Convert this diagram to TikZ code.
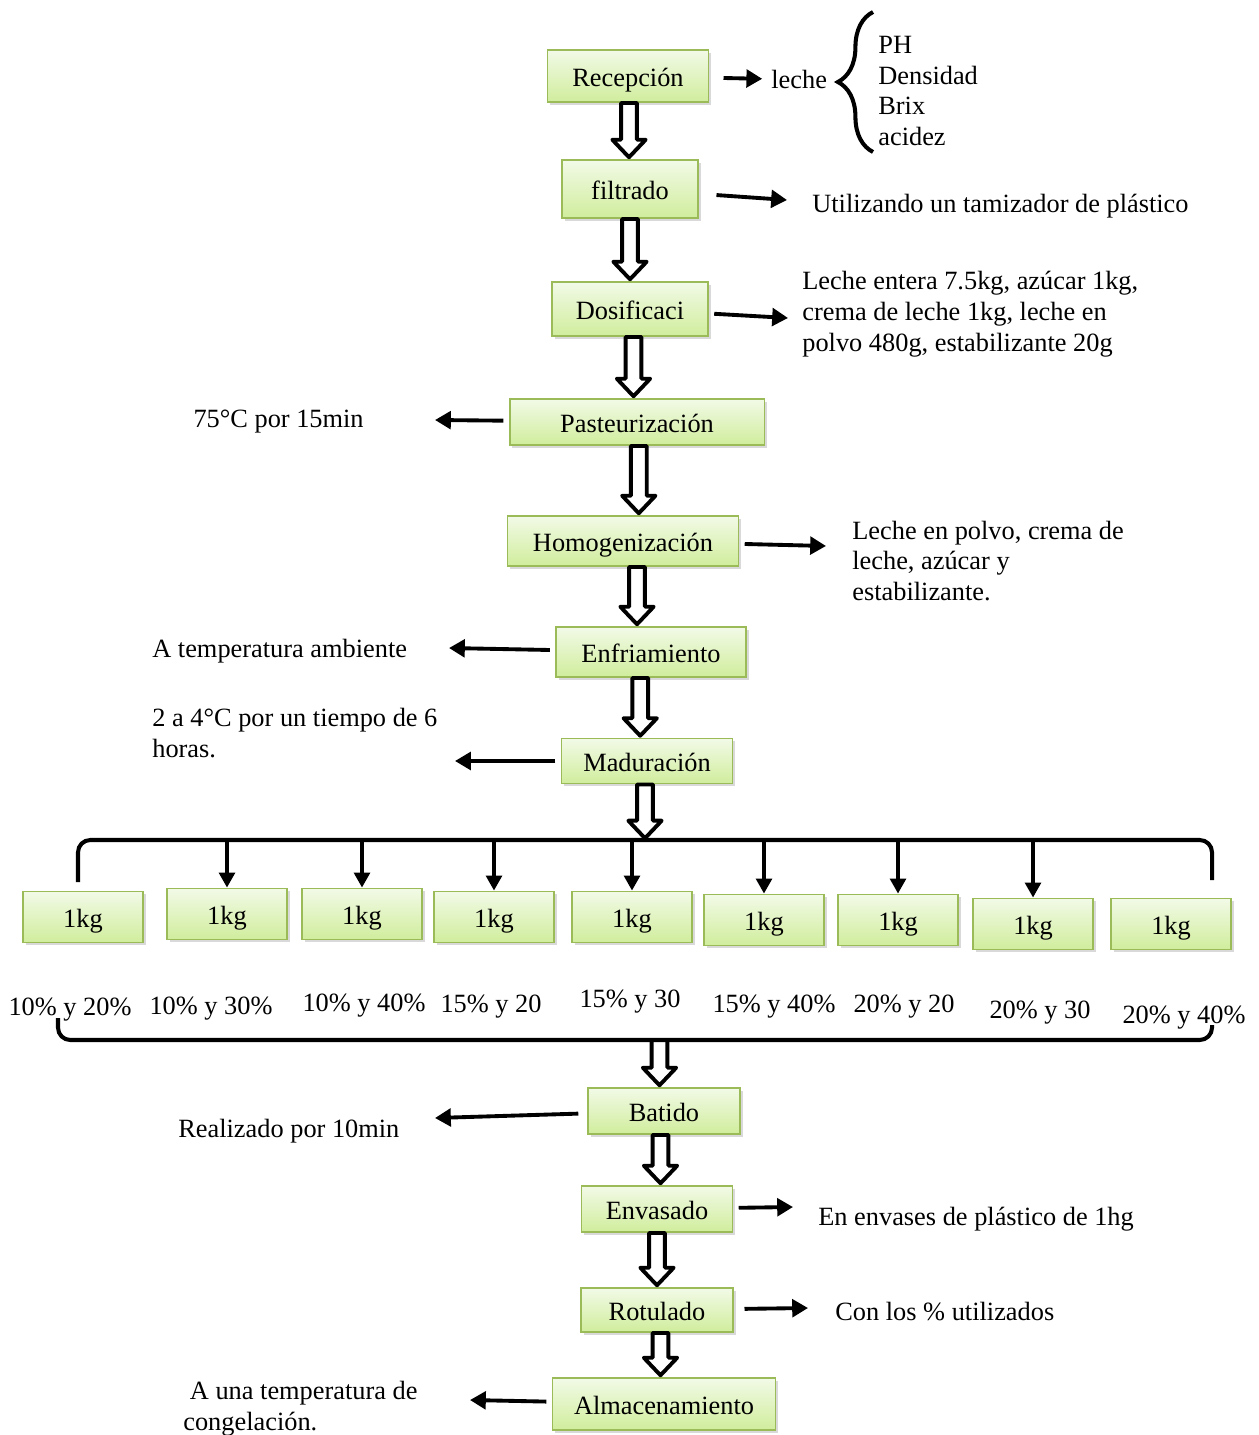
\documentclass[tikz,border=0pt]{standalone}
\usepackage{fontspec}
\setmainfont{Liberation Serif}
\usetikzlibrary{arrows.meta,shadows,decorations.pathreplacing,calc}

\definecolor{bordeverde}{RGB}{155,187,89}
\definecolor{verdeclaro}{RGB}{242,250,231}
\definecolor{verdeoscuro}{RGB}{208,237,156}

\newcommand\bajada[2]{%
  \draw[line width=2.2pt, fill=white, line join=round] let \p1=(#1), \p2=(#2), \p3=($(#1)!0.5!(#2)$) in
    (\x3-4.5pt,\y1) -- (\x3-4.5pt,\y2+11pt) -- (\x3-9.5pt,\y2+11pt) -- (\x3,\y2+1pt)
    -- (\x3+9.5pt,\y2+11pt) -- (\x3+4.5pt,\y2+11pt) -- (\x3+4.5pt,\y1) -- cycle;}

\begin{document}
\begin{tikzpicture}[x=0.02cm, y=-0.02cm, font=\fontsize{15}{17.6}\selectfont,
    caja/.style={draw=bordeverde, line width=1.1pt, top color=verdeclaro, bottom color=verdeoscuro,
      drop shadow={shadow xshift=1.6pt, shadow yshift=-1.6pt, opacity=0.3}, inner sep=0pt,
      text height=14pt, text depth=2pt},
    kilo/.style={caja, minimum width=2.4cm, minimum height=1.02cm},
    texto/.style={inner sep=0pt, align=left},
    flecha/.style={line width=2.2pt, shorten <=3pt, -{Triangle[length=9pt,width=10pt]}},
    flechita/.style={line width=1.9pt, -{Triangle[length=8.5pt,width=9pt]}},
    linea/.style={line width=2.3pt, rounded corners=7pt}]
\useasboundingbox (0,0) rectangle (1258,1435);

\node[caja, minimum width=3.22cm, minimum height=1.04cm] (recep) at (628,76) {Recepción};
\node[caja, minimum width=2.72cm, minimum height=1.16cm] (filt) at (630,189) {filtrado};
\node[caja, minimum width=3.12cm, minimum height=1.08cm] (dosif) at (630,309) {Dosificaci};
\node[caja, minimum width=5.1cm, minimum height=0.92cm] (paste) at (637,422) {Pasteurización};
\node[caja, minimum width=4.62cm, minimum height=1.0cm] (homog) at (623,541) {Homogenización};
\node[caja, minimum width=3.8cm, minimum height=1.0cm] (enfri) at (651,652) {Enfriamiento};
\node[caja, minimum width=3.42cm, minimum height=0.9cm] (madur) at (647,761) {Maduración};

\node[kilo] (k1) at (83,917) {1kg};
\node[kilo] (k2) at (227,914) {1kg};
\node[kilo] (k3) at (362,914) {1kg};
\node[kilo] (k4) at (494,917) {1kg};
\node[kilo] (k5) at (632,917) {1kg};
\node[kilo] (k6) at (764,920) {1kg};
\node[kilo] (k7) at (898,920) {1kg};
\node[kilo] (k8) at (1033,924) {1kg};
\node[kilo] (k9) at (1171,924) {1kg};

\node[caja, minimum width=3.04cm, minimum height=0.92cm] (batido) at (664,1111) {Batido};
\node[caja, minimum width=3.02cm, minimum height=0.92cm] (envas) at (657,1209) {Envasado};
\node[caja, minimum width=3.04cm, minimum height=0.88cm] (rotul) at (657,1310) {Rotulado};
\node[caja, minimum width=4.46cm, minimum height=1.04cm] (almac) at (664,1404) {Almacenamiento};

\node[texto, anchor=west] (leche) at (771,79) {leche};
\node[texto, anchor=west] (pruebas) at (878,91) {PH\\Densidad\\Brix\\acidez};
\node[texto, anchor=west] (tamiz) at (812,206) {Utilizando un tamizador de plástico};
\node[texto, anchor=west] (formula) at (802,314) {Leche entera 7.5kg, azúcar 1kg,\\crema de leche 1kg, leche en\\polvo 480g, estabilizante 20g};
\node[texto, anchor=east] (temp) at (364,422) {75°C por 15min};
\node[texto, anchor=west] (mezcla) at (852,561) {Leche en polvo, crema de\\leche, azúcar y\\estabilizante.};
\node[texto, anchor=west] (ambiente) at (152,651) {A temperatura ambiente};
\node[texto, anchor=west] (tiempo) at (152,733) {2 a 4°C por un tiempo de 6\\horas.};
\node[texto, anchor=west] (minutos) at (178,1131) {Realizado por 10min};
\node[texto, anchor=west] (envases) at (818,1219) {En envases de plástico de 1hg};
\node[texto, anchor=west] (usados) at (835,1312) {Con los \% utilizados};
\node[texto, anchor=west] (congela) at (183,1409) {\ A una temperatura de\\congelación.};

\node[texto] (p1) at (70,1010) {10\% y 20\%};
\node[texto] (p2) at (211,1009) {10\% y 30\%};
\node[texto] (p3) at (364,1006) {10\% y 40\%};
\node[texto] (p4) at (491,1007) {15\% y 20};
\node[texto] (p5) at (630,1002) {15\% y 30};
\node[texto] (p6) at (774,1007) {15\% y 40\%};
\node[texto] (p7) at (904,1007) {20\% y 20};
\node[texto] (p8) at (1040,1013) {20\% y 30};
\node[texto] (p9) at (1184,1018) {20\% y 40\%};

\coordinate (llave) at (643,840);
\coordinate (cierre) at (655,1040);
\coordinate (a1) at (787,200);
\coordinate (a2) at (788,318);
\coordinate (a3) at (435,420);
\coordinate (a4) at (826,546);
\coordinate (a5) at (449,648);
\coordinate (a6) at (455,761);
\coordinate (a7) at (435,1118);
\coordinate (a8) at (793,1207);
\coordinate (a9) at (808,1308);
\coordinate (a10) at (470,1400);

\bajada{recep.south}{filt.north}
\bajada{filt.south}{dosif.north}
\bajada{dosif.south}{paste.north}
\bajada{[xshift=5pt]paste.south}{[xshift=5pt]homog.north}
\bajada{homog.south}{enfri.north}
\bajada{[xshift=-5pt]enfri.south}{[xshift=-5pt]madur.north}
\bajada{madur.south}{llave}
\bajada{cierre}{batido.north}
\bajada{batido.south}{envas.north}
\bajada{envas.south}{rotul.north}
\bajada{rotul.south}{almac.north}

\draw[flecha, shorten <=8pt, shorten >=5pt] (recep) -- (leche.west);
\draw[line width=2.3pt, decorate, decoration={brace, amplitude=20pt}] (873,152) -- (873,12);
\draw[flecha, shorten <=10pt] (filt) -- (a1);
\draw[flecha] (dosif) -- (a2);
\draw[flecha] (paste) -- (a3);
\draw[flecha] (homog) -- (a4);
\draw[flecha] (enfri) -- (a5);
\draw[flecha] (madur) -- (a6);
\draw[flecha, shorten <=5pt] (batido) -- (a7);
\draw[flecha] (envas) -- (a8);
\draw[flecha, shorten <=6pt] (rotul) -- (a9);
\draw[flecha] (almac) -- (a10);

\draw[linea] (78,882) -- (78,840) -- (1212,840) -- (1212,880);
\draw[flechita] (k2.north |- llave) -- (k2.north);
\draw[flechita] (k3.north |- llave) -- (k3.north);
\draw[flechita] (k4.north |- llave) -- (k4.north);
\draw[flechita] (k5.north |- llave) -- (k5.north);
\draw[flechita] (k6.north |- llave) -- (k6.north);
\draw[flechita] (k7.north |- llave) -- (k7.north);
\draw[flechita] (k8.north |- llave) -- (k8.north);
\draw[linea] (58,1018) -- (58,1040) -- (1212,1040) -- (1212,1025);
\end{tikzpicture}
\end{document}
